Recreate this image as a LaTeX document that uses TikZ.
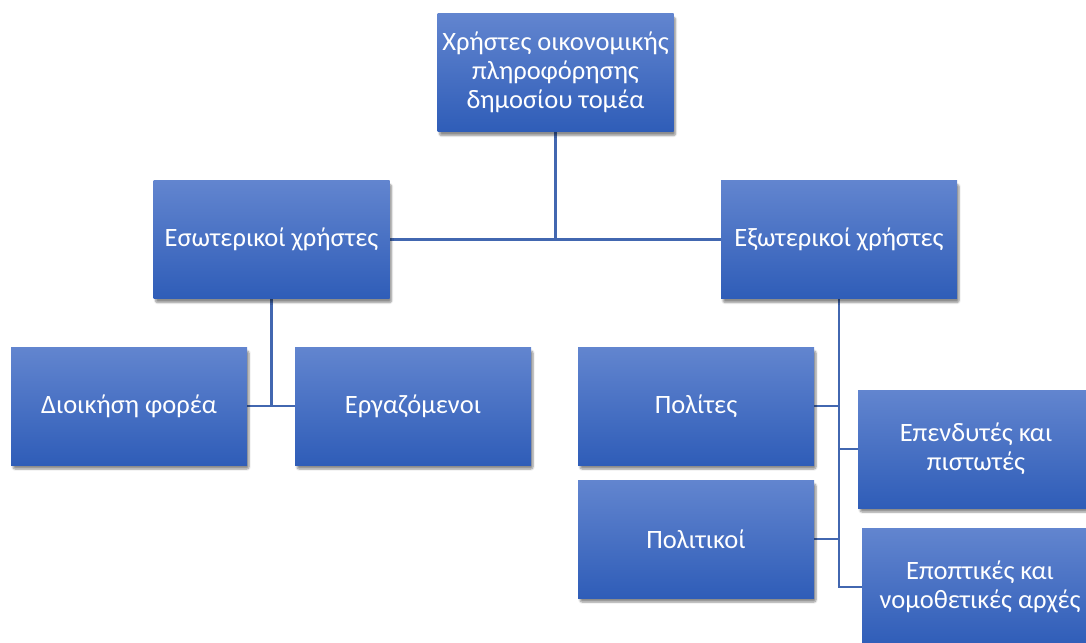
\documentclass[tikz,border=0pt]{standalone}
\usepackage{fontspec}
\setmainfont{Carlito}
\usetikzlibrary{shadows.blur,backgrounds}
\definecolor{boxtop}{HTML}{6285CF}
\definecolor{boxmid}{HTML}{4472C4}
\definecolor{boxbot}{HTML}{2F5DB8}
\definecolor{linec}{HTML}{4267B0}
\tikzset{
  box/.style={rectangle, minimum width=236pt, minimum height=118pt, inner sep=2pt,
    top color=boxtop, middle color=boxmid, bottom color=boxbot,
    text=white, align=center, font=\fontsize{26.5}{29}\selectfont,
    blur shadow={shadow xshift=2pt, shadow yshift=-4pt, shadow blur steps=6, shadow blur extra rounding=2pt, shadow opacity=45}},
  conn/.style={draw=linec, line width=2.8pt}
}
\begin{document}
\begin{tikzpicture}[x=1pt,y=-1pt]
\useasboundingbox (0,0) rectangle (1086,642);
\node[box] (top) at (555.5,72.5) {Χρήστες οικονομικής\\πληροφόρησης\\δημοσίου τομέα};
\node[box] (eso) at (271.5,239.5) {Εσωτερικοί χρήστες};
\node[box] (exo) at (839,239.5) {Εξωτερικοί χρήστες};
\node[box] (dio) at (129,406) {Διοικήση φορέα};
\node[box] (erg) at (413,406) {Εργαζόμενοι};
\node[box] (pol) at (696,406) {Πολίτες};
\node[box] (polk) at (696,539) {Πολιτικοί};
\node[box] (epe) at (976,449) {Επενδυτές και\\πιστωτές};
\node[box] (epo) at (980,587) {Εποπτικές και\\νομοθετικές αρχές};
\begin{scope}[on background layer]
\draw[conn] (top.south) -- (top.south |- eso.east);
\draw[conn] (eso.east) -- (exo.west);
\draw[conn] (eso.south) -- (eso.south |- dio.east);
\draw[conn] (dio.east) -- (erg.west);
\draw[conn] (exo.south) |- (epo.west);
\draw[conn] (exo.south |- epe.west) -- (epe.west);
\draw[conn] (pol.east) -- (pol.east -| exo.south);
\draw[conn] (polk.east) -- (polk.east -| exo.south);
\end{scope}
\end{tikzpicture}
\end{document}
